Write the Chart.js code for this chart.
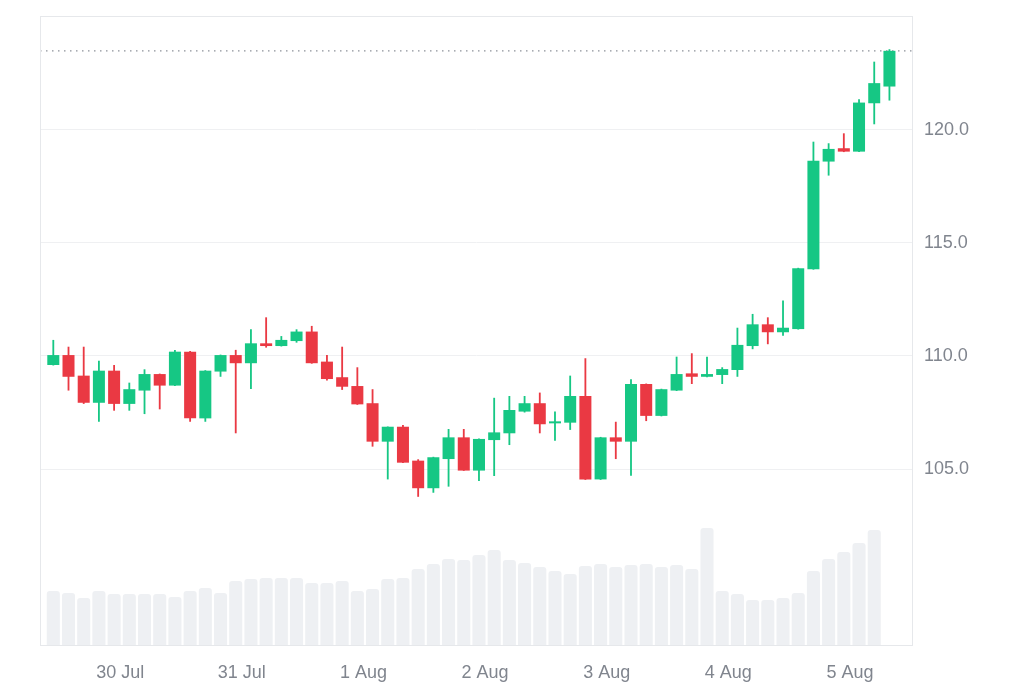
<!DOCTYPE html>
<html>
<head>
<meta charset="utf-8">
<script src="https://cdn.jsdelivr.net/npm/chart.js@4.4.1/dist/chart.umd.min.js"></script>
<style>
  html, body { margin: 0; padding: 0; background: #fff; }
  #wrap { width: 1024px; height: 683px; }
</style>
</head>
<body>
<div id="wrap"><canvas id="grafico"></canvas></div>
<script>
// Velas de 3 horas (apertura, maximo, minimo, cierre)
const openP = [109.60, 110.04, 109.13, 107.93, 109.35, 107.88, 108.47, 109.20, 108.69, 110.19,
  107.24, 109.31, 110.04, 109.68, 110.56, 110.44, 110.66, 111.08, 109.75, 109.06,
  108.67, 107.91, 106.21, 106.87, 105.37, 104.15, 105.44, 106.40, 104.93, 106.28,
  106.58, 107.54, 107.91, 107.02, 107.05, 108.23, 104.54, 106.40, 106.21, 108.76,
  107.35, 108.47, 109.23, 109.08, 109.16, 109.38, 110.44, 111.40, 111.05, 111.19,
  113.84, 118.60, 119.19, 119.04, 121.18, 121.92];
const highP = [110.71, 110.41, 110.41, 109.79, 109.60, 108.82, 109.41, 109.22, 110.27, 110.22,
  109.37, 110.06, 110.27, 111.18, 111.71, 110.88, 111.18, 111.33, 110.04, 110.41,
  109.50, 108.53, 106.88, 106.95, 105.43, 105.54, 106.77, 106.77, 106.35, 108.15,
  108.23, 108.23, 108.38, 107.54, 109.13, 109.90, 106.42, 107.09, 108.97, 108.78,
  108.55, 109.97, 110.12, 109.97, 109.50, 111.25, 111.86, 111.71, 112.45, 113.90,
  119.48, 119.41, 119.85, 121.36, 123.02, 123.57];
const lowP = [109.58, 108.47, 107.88, 107.09, 107.58, 107.58, 107.43, 107.64, 108.67, 107.09,
  107.09, 109.08, 106.58, 108.54, 110.37, 110.42, 110.59, 109.66, 108.91, 108.50,
  107.84, 105.99, 104.54, 105.27, 103.77, 103.95, 104.22, 104.92, 104.47, 104.69,
  106.06, 107.50, 106.58, 106.25, 106.73, 104.52, 104.52, 105.44, 104.70, 107.12,
  107.33, 108.45, 108.76, 109.06, 108.76, 109.08, 110.30, 110.52, 110.90, 111.17,
  113.82, 117.98, 119.02, 119.02, 120.25, 121.30];
const closeP = [110.04, 109.08, 107.93, 109.35, 107.88, 108.53, 109.20, 108.69, 110.19, 107.24,
  109.35, 110.04, 109.68, 110.56, 110.44, 110.71, 111.08, 109.68, 108.98, 108.64,
  107.86, 106.21, 106.87, 105.28, 104.15, 105.52, 106.40, 104.93, 106.33, 106.62,
  107.61, 107.91, 106.98, 107.04, 108.23, 104.54, 106.40, 106.21, 108.76, 107.35,
  108.53, 109.20, 109.08, 109.20, 109.42, 110.49, 111.40, 111.05, 111.25, 113.88,
  118.64, 119.16, 119.04, 121.21, 122.07, 123.50];
// volumen (millones), la ultima vela aun sin volumen
const volumen = [5.5, 5.3, 4.8, 5.5, 5.2, 5.2, 5.2, 5.2, 4.9, 5.5,
  5.8, 5.3, 6.5, 6.7, 6.8, 6.8, 6.8, 6.3, 6.3, 6.5,
  5.5, 5.7, 6.7, 6.8, 7.7, 8.2, 8.7, 8.6, 9.1, 9.6,
  8.6, 8.3, 7.9, 7.5, 7.2, 8.0, 8.2, 7.9, 8.1, 8.2,
  7.9, 8.1, 7.7, 11.8, 5.5, 5.2, 4.6, 4.6, 4.8, 5.3,
  7.5, 8.7, 9.4, 10.3, 11.6, null];

// etiquetas del eje x (posicion en indice de vela)
const dayLabels = ['30 Jul', '31 Jul', '1 Aug', '2 Aug', '3 Aug', '4 Aug', '5 Aug'];
const dayTicks = [4.4, 12.4, 20.4, 28.4, 36.4, 44.4, 52.4];
const priceTicks = [105, 110, 115, 120];

const UP = '#16c784';
const DOWN = '#ea3943';
const gris = '#80858e';
const fuente = { family: "'Liberation Sans', Arial, sans-serif", size: 18 };

const colores = openP.map((o, i) => closeP[i] >= o ? UP : DOWN);
const cuerpos = openP.map((o, i) => ({ x: i, y: [o, closeP[i]] }));
const mechas = openP.map((o, i) => ({ x: i, y: [lowP[i], highP[i]] }));
const barrasVol = volumen.map((v, i) => ({ x: i, y: v }));

// marco del area y linea punteada del ultimo precio
const marco = {
  id: 'marco',
  beforeDatasetsDraw(chart) {
    const { ctx, chartArea: a, scales } = chart;
    const y = scales.y.getPixelForValue(closeP[closeP.length - 1]);
    ctx.save();
    ctx.strokeStyle = '#8c9199';
    ctx.lineWidth = 1.2;
    ctx.setLineDash([1.5, 4.5]);
    ctx.beginPath();
    ctx.moveTo(a.left, y);
    ctx.lineTo(a.right, y);
    ctx.stroke();
    ctx.restore();
  },
  afterDraw(chart) {
    const { ctx, chartArea: a } = chart;
    ctx.save();
    ctx.strokeStyle = '#e6e8eb';
    ctx.lineWidth = 1;
    ctx.strokeRect(a.left + 0.5, a.top + 0.5, a.width - 1, a.height - 1);
    ctx.restore();
  }
};

new Chart(document.getElementById('grafico'), {
  type: 'bar',
  data: {
    datasets: [
      {
        label: 'Cuerpo',
        data: cuerpos,
        backgroundColor: colores,
        grouped: false,
        categoryPercentage: 1,
        barPercentage: 0.79,
        minBarLength: 2,
        yAxisID: 'y',
        order: 1
      },
      {
        label: 'Mecha',
        data: mechas,
        backgroundColor: colores,
        grouped: false,
        categoryPercentage: 1,
        barPercentage: 0.12,
        yAxisID: 'y',
        order: 2
      },
      {
        label: 'Volumen',
        data: barrasVol,
        backgroundColor: '#eef0f3',
        grouped: false,
        categoryPercentage: 1,
        barPercentage: 0.86,
        borderRadius: 3,
        yAxisID: 'yv',
        order: 3
      }
    ]
  },
  options: {
    responsive: true,
    maintainAspectRatio: false,
    animation: false,
    layout: { padding: { left: 40, top: 16, right: 0, bottom: 0 } },
    plugins: {
      legend: { display: false },
      tooltip: { enabled: false }
    },
    scales: {
      x: {
        type: 'linear',
        offset: false,
        min: -0.875,
        max: 56.55,
        grid: { display: false, drawTicks: false },
        border: { display: false },
        afterBuildTicks: s => { s.ticks = dayTicks.map(v => ({ value: v })); },
        afterFit: s => { s.height = 37; s.paddingLeft = 0; s.paddingRight = 0; },
        ticks: {
          padding: 16,
          color: gris,
          font: fuente,
          maxRotation: 0,
          autoSkip: false,
          callback: (v, i) => dayLabels[i]
        }
      },
      y: {
        type: 'linear',
        position: 'right',
        min: 97.17,
        max: 125.04,
        grid: { color: '#eff0f2', drawTicks: false },
        border: { display: false },
        afterBuildTicks: s => { s.ticks = priceTicks.map(v => ({ value: v })); },
        afterFit: s => { s.width = 111; s.paddingTop = 0; s.paddingBottom = 0; },
        ticks: {
          padding: 11,
          color: gris,
          font: fuente,
          callback: v => v.toFixed(1)
        }
      },
      yv: {
        type: 'linear',
        display: false,
        min: 0,
        max: 63
      }
    }
  },
  plugins: [marco]
});
</script>
</body>
</html>
